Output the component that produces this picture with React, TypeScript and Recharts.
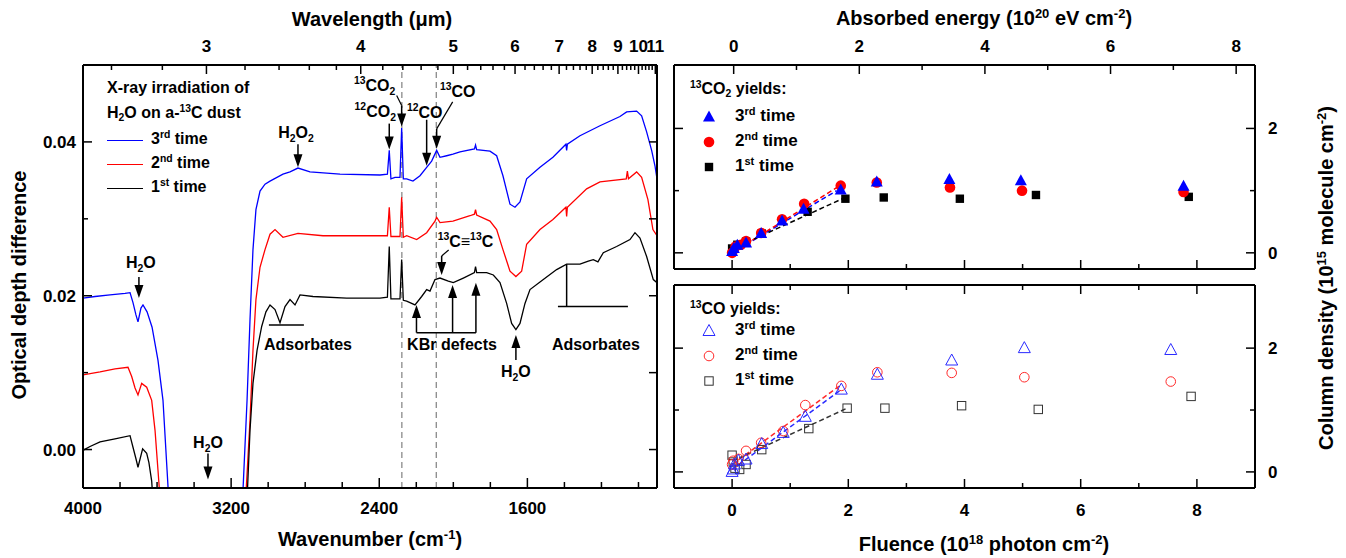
import React from 'react';
import {
  LineChart,
  Line,
  XAxis,
  YAxis,
  ReferenceLine,
  ReferenceDot,
  ComposedChart,
  Scatter,
} from 'recharts';

const FONT = '"Liberation Sans", Arial, Helvetica, sans-serif';

// ---- left panel: difference spectra, [wavenumber cm-1, optical depth difference]
const spec3rd: [number, number][] = [
  [4000, 0.0197], [3935, 0.0199], [3854, 0.0201], [3773, 0.0203], [3746, 0.0204], [3730, 0.0191],
  [3714, 0.0175], [3703, 0.0166], [3687, 0.0184], [3676, 0.0188], [3654, 0.0179], [3627, 0.0159],
  [3595, 0.0116], [3568, 0.0064], [3546, -0.0027], [3530, -0.0093],
  [3141, -0.008], [3114, 0.0064], [3098, 0.0169], [3082, 0.026], [3066, 0.0312], [3044, 0.0336],
  [3017, 0.0345], [2990, 0.0349], [2920, 0.0358], [2882, 0.0361], [2839, 0.0366], [2774, 0.0361],
  [2612, 0.0358], [2396, 0.0357], [2356, 0.0358], [2346, 0.0389], [2337, 0.0352], [2315, 0.0354],
  [2288, 0.0354], [2279, 0.0418], [2270, 0.0352], [2252, 0.0352], [2218, 0.0349], [2180, 0.0356],
  [2144, 0.0367], [2117, 0.0375], [2090, 0.0389], [2072, 0.038], [2036, 0.0382], [2002, 0.0384],
  [1964, 0.0387], [1886, 0.0391], [1880, 0.0396], [1874, 0.039], [1802, 0.0388], [1766, 0.0382],
  [1732, 0.0356], [1694, 0.0319], [1667, 0.0315], [1640, 0.0322], [1604, 0.0352], [1532, 0.0367],
  [1462, 0.038], [1392, 0.0397], [1388, 0.0389], [1384, 0.0397], [1316, 0.0408], [1208, 0.0421],
  [1100, 0.0433], [1064, 0.0439], [1010, 0.044], [983, 0.0434], [956, 0.0413], [929, 0.0389],
  [911, 0.0369], [900, 0.0352],
];

const spec2nd: [number, number][] = [
  [4000, 0.0097], [3908, 0.0101], [3827, 0.0105], [3757, 0.0107], [3737, 0.0095], [3719, 0.008],
  [3703, 0.0071], [3683, 0.0086], [3656, 0.0081], [3629, 0.0064], [3611, 0.0025], [3595, -0.0027],
  [3579, -0.008],
  [3125, -0.008], [3098, 0.0038], [3082, 0.0129], [3066, 0.0195], [3044, 0.0237], [3017, 0.026],
  [2990, 0.028], [2963, 0.0286], [2920, 0.0276], [2839, 0.0281], [2704, 0.0278], [2522, 0.0278],
  [2380, 0.0278], [2356, 0.0278], [2346, 0.0315], [2337, 0.0277], [2288, 0.0277], [2279, 0.0328],
  [2270, 0.0276], [2252, 0.0278], [2198, 0.0273], [2144, 0.0282], [2099, 0.0297], [2090, 0.0302],
  [2072, 0.0295], [2002, 0.0297], [1910, 0.0304], [1886, 0.0306], [1880, 0.0312], [1874, 0.0305],
  [1802, 0.0297], [1766, 0.0286], [1732, 0.026], [1694, 0.0232], [1662, 0.0225], [1631, 0.0232],
  [1604, 0.0267], [1532, 0.0286], [1462, 0.0299], [1392, 0.0315], [1388, 0.0303], [1384, 0.0315],
  [1280, 0.0339], [1208, 0.0348], [1066, 0.0352], [1060, 0.0362], [1054, 0.0352], [1010, 0.0361],
  [983, 0.0354], [949, 0.0325], [922, 0.0286], [900, 0.0278],
];

const spec1st: [number, number][] = [
  [4000, -0.0001], [3962, 0.0004], [3908, 0.001], [3827, 0.0014], [3746, 0.0018], [3730, 0.0003],
  [3714, -0.0012], [3703, -0.0023], [3678, 0.0001], [3656, -0.0005], [3644, -0.0017], [3629, -0.0041],
  [3622, -0.0067],
  [3114, -0.0065], [3098, 0.0025], [3082, 0.0086], [3060, 0.0129], [3035, 0.016], [3012, 0.0179],
  [2990, 0.0188], [2963, 0.0182], [2936, 0.0165], [2909, 0.0186], [2882, 0.0195], [2855, 0.0188],
  [2828, 0.0201], [2758, 0.0199], [2576, 0.0197], [2396, 0.0197], [2356, 0.0198], [2346, 0.0264],
  [2337, 0.0196], [2288, 0.0196], [2279, 0.0247], [2270, 0.0194], [2252, 0.0193], [2207, 0.0188],
  [2171, 0.0199], [2144, 0.0208], [2126, 0.0206], [2099, 0.0221], [2072, 0.0223], [2027, 0.0219],
  [2000, 0.0217], [1946, 0.0223], [1886, 0.023], [1880, 0.0238], [1874, 0.023], [1820, 0.023],
  [1784, 0.0227], [1748, 0.0217], [1712, 0.019], [1685, 0.0164], [1662, 0.0156], [1640, 0.0164],
  [1613, 0.019], [1586, 0.0208], [1514, 0.0221], [1442, 0.0234], [1388, 0.0241], [1316, 0.0241],
  [1271, 0.0245], [1244, 0.0247], [1219, 0.0244], [1190, 0.0256], [1118, 0.0264], [1046, 0.0273],
  [1019, 0.0282], [992, 0.0275], [956, 0.0251], [920, 0.0221], [900, 0.0217],
];

const wnTicks = [4000, 3800, 3600, 3400, 3200, 3000, 2800, 2600, 2400, 2200, 2000, 1800, 1600, 1400, 1200, 1000];
const wnLabels = [4000, 3200, 2400, 1600];
const wlTicks = [
  2.6, 2.8, 3, 3.2, 3.4, 3.6, 3.8, 4, 4.2, 4.4, 4.6, 4.8, 5, 5.2, 5.4, 5.6, 5.8, 6, 6.2, 6.4, 6.6,
  6.8, 7, 7.2, 7.4, 7.6, 7.8, 8, 8.2, 8.4, 8.6, 8.8, 9, 9.2, 9.4, 9.6, 9.8, 10, 10.2, 10.4, 10.6,
  10.8, 11,
];
const odTicks = [0, 0.01, 0.02, 0.03, 0.04];
const odLabels = [0, 0.02, 0.04];
const bandLines = [2278, 2092]; // 13CO2 and 13CO

// ---- right panels: [fluence 1e18 photon cm-2, column density 1e15 molecule cm-2]
const co2Run3: [number, number][] = [
  [0, 0.02], [0.03, 0.07], [0.09, 0.12], [0.24, 0.16], [0.5, 0.31], [0.86, 0.51], [1.23, 0.7],
  [1.87, 1.01], [2.49, 1.14], [3.74, 1.18], [4.97, 1.16], [7.77, 1.07],
];
const co2Run2: [number, number][] = [
  [0, 0], [0.06, 0.1], [0.15, 0.13], [0.24, 0.19], [0.5, 0.32], [0.86, 0.54], [1.24, 0.79],
  [1.87, 1.08], [2.49, 1.13], [3.75, 1.05], [4.99, 1.0], [7.77, 0.98],
];
const co2Run1: [number, number][] = [
  [0, 0.07], [0.09, 0.13], [0.24, 0.18], [0.51, 0.31], [1.3, 0.66], [1.95, 0.87], [2.61, 0.89],
  [3.92, 0.87], [5.23, 0.93], [7.86, 0.9],
];
const co2Fit3: [number, number][] = [[0, 0.0], [1.8, 1.0]];
const co2Fit2: [number, number][] = [[0, 0.0], [1.87, 1.09]];
const co2Fit1: [number, number][] = [[0, 0.06], [1.9, 0.87]];

const coRun3: [number, number][] = [
  [0, 0], [0.02, 0.04], [0.04, 0.12], [0.11, 0.18], [0.24, 0.2], [0.51, 0.45], [0.88, 0.63],
  [1.26, 0.89], [1.88, 1.33], [2.5, 1.57], [3.78, 1.8], [5.03, 2.0], [7.55, 1.97],
];
const coRun2: [number, number][] = [
  [0, 0.12], [0.02, 0.18], [0.11, 0.21], [0.24, 0.34], [0.5, 0.47], [0.88, 0.66], [1.26, 1.08],
  [1.88, 1.39], [2.5, 1.61], [3.78, 1.6], [5.03, 1.53], [7.55, 1.46],
];
const coRun1: [number, number][] = [
  [0, 0.27], [0.02, 0.16], [0.05, 0.06], [0.13, 0.04], [0.24, 0.12], [0.51, 0.36], [1.32, 0.7],
  [1.98, 1.03], [2.63, 1.03], [3.95, 1.07], [5.27, 1.01], [7.9, 1.22],
];
const coFit3: [number, number][] = [[0, 0.04], [1.88, 1.33]];
const coFit2: [number, number][] = [[0, 0.12], [1.88, 1.41]];
const coFit1: [number, number][] = [[0, 0.17], [1.98, 1.03]];

const fluenceTicks = [0, 1, 2, 3, 4, 5, 6, 7, 8];
const energyTicks = [0, 1, 2, 3, 4, 5, 6, 7, 8];
const colTicks = [0, 1, 2];

const specSeries = [
  { name: '3^{rd} time', color: '#0000ff', pts: spec3rd },
  { name: '2^{nd} time', color: '#ff0000', pts: spec2nd },
  { name: '1^{st} time', color: '#000000', pts: spec1st },
];

type Mark = 'tri' | 'circ' | 'sq';
const co2Series = [
  { name: '3^{rd} time', color: '#0000ff', pts: co2Run3, fit: co2Fit3, mark: 'tri' as Mark },
  { name: '2^{nd} time', color: '#ff0000', pts: co2Run2, fit: co2Fit2, mark: 'circ' as Mark },
  { name: '1^{st} time', color: '#000000', pts: co2Run1, fit: co2Fit1, mark: 'sq' as Mark },
];
const coSeries = [
  { name: '3^{rd} time', color: '#2a2aff', pts: coRun3, fit: coFit3, mark: 'tri' as Mark },
  { name: '2^{nd} time', color: '#ff2a2a', pts: coRun2, fit: coFit2, mark: 'circ' as Mark },
  { name: '1^{st} time', color: '#333333', pts: coRun1, fit: coFit1, mark: 'sq' as Mark },
];

// ---- text helpers
const splitRich = (text: string) => text.split(/(\^\{[^}]*\}|_\{[^}]*\})/).filter(Boolean);

const Rich = ({ x, y, text, size = 16, anchor = 'middle' }: any) => {
  let shift = 0;
  const spans = splitRich(text).map((p, i) => {
    let target = 0;
    let content = p;
    let fs = size;
    if (p.startsWith('^{')) { target = -0.42 * size; content = p.slice(2, -1); fs = size * 0.65; }
    else if (p.startsWith('_{')) { target = 0.25 * size; content = p.slice(2, -1); fs = size * 0.65; }
    const dy = target - shift;
    shift = target;
    return <tspan key={i} dy={dy} fontSize={fs}>{content}</tspan>;
  });
  return (
    <text x={x} y={y} textAnchor={anchor} fontFamily={FONT} fontWeight={700} fontSize={size} fill="#000">
      {spans}
    </text>
  );
};

const richHtml = (text: string) =>
  splitRich(text).map((p, i) => {
    if (p.startsWith('^{'))
      return <span key={i} style={{ fontSize: '0.65em', position: 'relative', top: '-0.55em' }}>{p.slice(2, -1)}</span>;
    if (p.startsWith('_{'))
      return <span key={i} style={{ fontSize: '0.65em', position: 'relative', top: '0.3em' }}>{p.slice(2, -1)}</span>;
    return <span key={i}>{p}</span>;
  });

const Title = ({ x, y, text, rotate }: any) => (
  <div
    style={{
      position: 'absolute', left: x, top: y, whiteSpace: 'nowrap',
      transform: `translate(-50%, -50%)${rotate ? ' rotate(-90deg)' : ''}`,
      fontFamily: FONT, fontWeight: 700, fontSize: 20, lineHeight: '24px', color: '#000',
    }}
  >
    {richHtml(text)}
  </div>
);

// ---- ticks drawn inward, labels outside
type Side = 'top' | 'bottom' | 'left' | 'right';
const makeTick = (
  side: Side, isMajor: (v: number) => boolean, fmt: ((v: number) => string) | null,
  majorLen: number, minorLen: number, gap: number,
) => (props: any) => {
  const { x, y, payload } = props;
  const v = payload.value as number;
  const major = isMajor(v);
  const len = major ? majorLen : minorLen;
  const label = major && fmt ? fmt(v) : null;
  let x2 = x, y2 = y, tx = x, ty = y, anchor = 'middle';
  if (side === 'bottom') { y2 = y - len; ty = y + gap; }
  if (side === 'top') { y2 = y + len; ty = y - gap; }
  if (side === 'left') { x2 = x + len; tx = x - gap; ty = y + 6; anchor = 'end'; }
  if (side === 'right') { x2 = x - len; tx = x + gap; ty = y + 6; anchor = 'start'; }
  return (
    <g>
      <line x1={x} y1={y} x2={x2} y2={y2} stroke="#000" strokeWidth={1.5} />
      {label !== null && (
        <text x={tx} y={ty} textAnchor={anchor} fontFamily={FONT} fontWeight={700} fontSize={17} fill="#000">
          {label}
        </text>
      )}
    </g>
  );
};

const isInt = (v: number) => Math.abs(v - Math.round(v)) < 1e-6;
const isEven = (v: number) => isInt(v) && Math.round(v) % 2 === 0;
const frame = { stroke: '#000', strokeWidth: 2 };

// ---- annotation shapes
const arrowDown = (len: number, label?: string, lx = 0, ly = 0, hook?: [number, number], anchor = 'middle') =>
  (p: any) => {
    const { cx, cy } = p;
    const top = cy - len;
    return (
      <g>
        <line x1={cx} y1={top} x2={cx} y2={cy - 10} stroke="#000" strokeWidth={1.5} />
        <polygon points={`${cx - 4.5},${cy - 13} ${cx + 4.5},${cy - 13} ${cx},${cy}`} fill="#000" />
        {hook && <line x1={cx + hook[0]} y1={top + hook[1]} x2={cx} y2={top} stroke="#000" strokeWidth={1.2} />}
        {label && <Rich x={cx + lx} y={top + ly} text={label} anchor={anchor} />}
      </g>
    );
  };

const arrowUp = (len: number, label?: string, ly = 0) => (p: any) => {
  const { cx, cy } = p;
  return (
    <g>
      {len > 0 && <line x1={cx} y1={cy + 10} x2={cx} y2={cy + len} stroke="#000" strokeWidth={1.5} />}
      <polygon points={`${cx - 4.5},${cy + 13} ${cx + 4.5},${cy + 13} ${cx},${cy}`} fill="#000" />
      {label && <Rich x={cx} y={cy + len + ly} text={label} />}
    </g>
  );
};

const textAt = (label: string) => (p: any) => <Rich x={p.cx} y={p.cy} text={label} />;

// ---- markers
const drawMark = (kind: Mark, cx: number, cy: number, color: string, open: boolean) => {
  const fill = open ? 'none' : color;
  const stroke = open ? color : 'none';
  if (kind === 'tri')
    return <polygon points={`${cx},${cy - 6.5} ${cx - 6},${cy + 4.5} ${cx + 6},${cy + 4.5}`} fill={fill} stroke={stroke} strokeWidth={1} />;
  if (kind === 'circ') return <circle cx={cx} cy={cy} r={open ? 4.8 : 5.3} fill={fill} stroke={stroke} strokeWidth={1} />;
  return <rect x={cx - 4.2} y={cy - 4.2} width={8.4} height={8.4} fill={fill} stroke={stroke} strokeWidth={1} />;
};

const toSpec = (pts: [number, number][]) => pts.map(([nu, od]) => ({ nu, od }));
const toYield = (pts: [number, number][]) => pts.map(([f, n]) => ({ f, n }));

const SpectraPanel = () => (
  <LineChart width={680} height={558} margin={{ top: 35, right: 22, bottom: 40, left: 23 }}>
    <XAxis
      xAxisId="b" type="number" dataKey="nu" domain={[900, 4000]} reversed allowDataOverflow
      ticks={wnTicks} interval={0} tickSize={0} tickMargin={0} tickLine={false} axisLine={frame} height={30}
      tick={makeTick('bottom', (v) => wnLabels.includes(v), (v) => String(v), 10, 6, 26)}
    />
    <XAxis
      xAxisId="t" orientation="top" type="number" dataKey="nu" domain={[900, 4000]} reversed allowDataOverflow
      ticks={wlTicks.map((l) => 1e4 / l)} interval={0} tickSize={0} tickMargin={0} tickLine={false}
      axisLine={frame} height={30}
      tick={makeTick('top', (v) => isInt(1e4 / v), (v) => String(Math.round(1e4 / v)), 9, 5, 13)}
    />
    <YAxis
      yAxisId="l" type="number" domain={[-0.005, 0.05]} allowDataOverflow ticks={odTicks} interval={0}
      tickSize={0} tickMargin={0} tickLine={false} axisLine={frame} width={60}
      tick={makeTick('left', (v) => odLabels.includes(v), (v) => v.toFixed(2), 9, 5, 7)}
    />
    <YAxis
      yAxisId="r" orientation="right" type="number" domain={[-0.005, 0.05]} allowDataOverflow ticks={odTicks}
      interval={0} tickSize={0} tickMargin={0} tickLine={false} axisLine={frame} width={1}
      tick={makeTick('right', () => true, null, 8, 8, 0)}
    />
    {bandLines.map((nu) => (
      <ReferenceLine key={nu} xAxisId="b" yAxisId="l" x={nu} stroke="#8a8a8a" strokeWidth={1.3} strokeDasharray="6 4" />
    ))}
    {/* invisible carrier so the top and right axes get their scales */}
    <Line
      xAxisId="t" yAxisId="r" data={toSpec(spec1st)} dataKey="od" stroke="transparent" dot={false}
      activeDot={false} legendType="none" isAnimationActive={false}
    />
    {specSeries.map((s) => (
      <Line
        key={s.name} xAxisId="b" yAxisId="l" data={toSpec(s.pts)} dataKey="od" name={s.name}
        type="linear" stroke={s.color} strokeWidth={1.3} dot={false} activeDot={false} isAnimationActive={false}
      />
    ))}
    {/* annotations */}
    <ReferenceDot xAxisId="b" yAxisId="l" x={3698} y={0.0197} r={0} shape={arrowDown(21, 'H_{2}O', 2, -9)} />
    <ReferenceDot xAxisId="b" yAxisId="l" x={3325} y={-0.0039} r={0} shape={arrowDown(26, 'H_{2}O', 0, -6)} />
    <ReferenceDot xAxisId="b" yAxisId="l" x={2839} y={0.0367} r={0} shape={arrowDown(23, 'H_{2}O_{2}', -2, -6)} />
    <ReferenceDot xAxisId="b" yAxisId="l" x={2346} y={0.039} r={0} shape={arrowDown(26, '^{12}CO_{2}', -14, -7)} />
    <ReferenceDot xAxisId="b" yAxisId="l" x={2279} y={0.042} r={0} shape={arrowDown(21, '^{13}CO_{2}', -27, -15, [-5, -10])} />
    <ReferenceDot xAxisId="b" yAxisId="l" x={2144} y={0.0369} r={0} shape={arrowDown(46, '^{12}CO', -2, -2)} />
    <ReferenceDot xAxisId="b" yAxisId="l" x={2090} y={0.0391} r={0} shape={arrowDown(20, '^{13}CO', 21, -32, [16, -27])} />
    <ReferenceDot xAxisId="b" yAxisId="l" x={2063} y={0.0227} r={0} shape={arrowDown(19, '^{13}C≡^{13}C', -4, -9, [7, -6], 'start')} />
    {/* KBr defects */}
    {[[2199, 0.0188], [2004, 0.0214], [1878, 0.0217]].map(([nu, od]) => (
      <React.Fragment key={nu}>
        <ReferenceLine xAxisId="b" yAxisId="l" segment={[{ x: nu, y: od - 0.0012 }, { x: nu, y: 0.0152 }]} stroke="#000" strokeWidth={1.5} />
        <ReferenceDot xAxisId="b" yAxisId="l" x={nu} y={od} r={0} shape={arrowUp(0)} />
      </React.Fragment>
    ))}
    <ReferenceLine xAxisId="b" yAxisId="l" segment={[{ x: 2199, y: 0.0152 }, { x: 1878, y: 0.0152 }]} stroke="#000" strokeWidth={1.5} />
    <ReferenceDot xAxisId="b" yAxisId="l" x={2007} y={0.0129} r={0} shape={textAt('KBr defects')} />
    <ReferenceDot xAxisId="b" yAxisId="l" x={1662} y={0.0149} r={0} shape={arrowUp(25, 'H_{2}O', 17)} />
    {/* adsorbates */}
    <ReferenceLine xAxisId="b" yAxisId="l" segment={[{ x: 2996, y: 0.0162 }, { x: 2807, y: 0.0162 }]} stroke="#000" strokeWidth={1.5} />
    <ReferenceDot xAxisId="b" yAxisId="l" x={2785} y={0.0129} r={0} shape={textAt('Adsorbates')} />
    <ReferenceLine xAxisId="b" yAxisId="l" segment={[{ x: 1388, y: 0.0241 }, { x: 1388, y: 0.0186 }]} stroke="#000" strokeWidth={1.5} />
    <ReferenceLine xAxisId="b" yAxisId="l" segment={[{ x: 1435, y: 0.0186 }, { x: 1057, y: 0.0186 }]} stroke="#000" strokeWidth={1.5} />
    <ReferenceDot xAxisId="b" yAxisId="l" x={1230} y={0.0129} r={0} shape={textAt('Adsorbates')} />
  </LineChart>
);

const YieldPanel = ({ series, height, margin, energyTop, fluenceLabels, open }: any) => (
  <ComposedChart width={680} height={height} margin={margin}>
    <XAxis
      xAxisId="b" type="number" dataKey="f" domain={[-1, 9]} allowDataOverflow ticks={fluenceTicks} interval={0}
      tickSize={0} tickMargin={0} tickLine={false} axisLine={frame} height={fluenceLabels ? 30 : 1}
      tick={makeTick('bottom', isEven, fluenceLabels ? (v) => String(v) : null, 9, 5, 28)}
    />
    <XAxis
      xAxisId="t" orientation="top" type="number" dataKey="f" domain={energyTop ? [-0.95, 8.3] : [-1, 9]} allowDataOverflow
      ticks={energyTop ? energyTicks : fluenceTicks} interval={0} tickSize={0} tickMargin={0} tickLine={false}
      axisLine={frame} height={energyTop ? 30 : 1}
      tick={makeTick('top', isEven, energyTop ? (v) => String(v) : null, 9, 5, 13)}
    />
    <YAxis
      yAxisId="l" type="number" dataKey="n" domain={[-0.26, 3.02]} allowDataOverflow ticks={colTicks} interval={0}
      tickSize={0} tickMargin={0} tickLine={false} axisLine={frame} width={1}
      tick={makeTick('left', isEven, null, 9, 5, 0)}
    />
    <YAxis
      yAxisId="r" orientation="right" type="number" dataKey="n" domain={[-0.26, 3.02]} allowDataOverflow
      ticks={colTicks} interval={0} tickSize={0} tickMargin={0} tickLine={false} axisLine={frame} width={1}
      tick={makeTick('right', isEven, (v) => String(v), 9, 5, 13)}
    />
    {/* invisible carrier so the top and left axes get their scales */}
    <Line
      xAxisId="t" yAxisId="l" data={toYield(series[0].pts)} dataKey="n" stroke="transparent" dot={false}
      activeDot={false} legendType="none" isAnimationActive={false}
    />
    {series.map((s: any) => (
      <Line
        key={'fit' + s.name} xAxisId="b" yAxisId="r" data={toYield(s.fit)} dataKey="n" type="linear"
        stroke={s.color} strokeWidth={1.5} strokeDasharray="5 3" dot={false} activeDot={false}
        legendType="none" isAnimationActive={false}
      />
    ))}
    {[...series].reverse().map((s: any) => (
      <Scatter
        key={s.name} xAxisId="b" yAxisId="r" data={toYield(s.pts)} dataKey="n" name={s.name}
        isAnimationActive={false}
        shape={(p: any) => drawMark(s.mark, p.cx, p.cy, s.color, open)}
      />
    ))}
  </ComposedChart>
);

const YieldLegend = ({ left, top, title, titleH, series, open }: any) => (
  <div style={{ position: 'absolute', left, top, fontFamily: FONT, fontWeight: 700, fontSize: 16, lineHeight: '25px', color: '#000' }}>
    <div style={{ height: titleH }}>{richHtml(title)}</div>
    {series.map((s: any) => (
      <div key={s.name} style={{ display: 'flex', alignItems: 'center', height: 25, fontSize: 17 }}>
        <svg width={45} height={16} style={{ display: 'block' }}>{drawMark(s.mark, 19, 8, s.color, open)}</svg>
        <span>{richHtml(s.name)}</span>
      </div>
    ))}
  </div>
);

export default function App() {
  return (
    <div style={{ position: 'absolute', left: 0, top: 0, width: 1346, height: 558, background: '#fff', overflow: 'hidden' }}>
      <div style={{ position: 'absolute', left: 0, top: 0 }}>
        <SpectraPanel />
      </div>
      <div style={{ position: 'absolute', left: 640, top: 0 }}>
        <YieldPanel
          series={co2Series} height={290} margin={{ top: 35, right: 64, bottom: 20, left: 33 }}
          energyTop fluenceLabels={false} open={false}
        />
      </div>
      <div style={{ position: 'absolute', left: 640, top: 270 }}>
        <YieldPanel
          series={coSeries} height={288} margin={{ top: 14, right: 64, bottom: 40, left: 33 }}
          energyTop={false} fluenceLabels open
        />
      </div>

      {/* left legend */}
      <div style={{ position: 'absolute', left: 107, top: 75, fontFamily: FONT, fontWeight: 700, fontSize: 16, lineHeight: '25px', color: '#000' }}>
        <div>X-ray irradiation of</div>
        <div>{richHtml('H_{2}O on a-^{13}C dust')}</div>
        {specSeries.map((s) => (
          <div key={s.name} style={{ display: 'flex', alignItems: 'center', height: 24 }}>
            <span style={{ display: 'inline-block', width: 36, borderTop: `1.5px solid ${s.color}`, marginRight: 8, marginTop: 3 }} />
            <span>{richHtml(s.name)}</span>
          </div>
        ))}
      </div>

      <YieldLegend left={690} top={76} title="^{13}CO_{2} yields:" titleH={28} series={co2Series} open={false} />
      <YieldLegend left={690} top={296} title="^{13}CO yields:" titleH={22} series={coSeries} open />

      <Title x={372} y={19} text="Wavelength (μm)" />
      <Title x={370} y={540} text="Wavenumber (cm^{-1})" />
      <Title x={19} y={285} text="Optical depth difference" rotate />
      <Title x={984} y={19} text="Absorbed energy (10^{20} eV cm^{-2})" />
      <Title x={984} y={545} text="Fluence (10^{18} photon cm^{-2})" />
      <Title x={1327} y={278} text="Column density (10^{15} molecule cm^{-2})" rotate />
    </div>
  );
}
